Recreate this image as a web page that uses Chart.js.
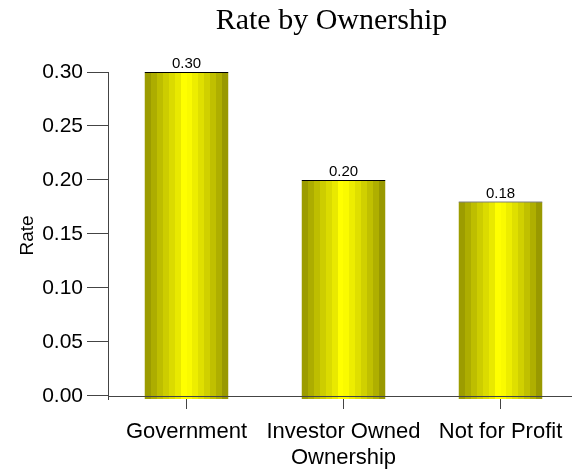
<!DOCTYPE html>
<html>
<head>
<meta charset="utf-8">
<script src="https://cdn.jsdelivr.net/npm/chart.js@4/dist/chart.umd.min.js"></script>
<style>
  html, body { margin: 0; padding: 0; background: #fff; }
  #wrap { width: 579px; height: 474px; }
</style>
</head>
<body>
<div id="wrap"><canvas id="rateChart" width="579" height="474"></canvas></div>
<script>
// --- DATA --- //
const categories = ['Government', 'Investor Owned', 'Not for Profit'];
const rates = [0.30, 0.20, 0.18];
const yTicks = [0.00, 0.05, 0.10, 0.15, 0.20, 0.25, 0.30];

const chartTitle = 'Rate by Ownership';
const yTitle = 'Rate';
const xTitle = 'Ownership';

// bars hang a little below the zero line
const axisDrop = 0.0028;

// cylinder shading, left to right
const bandColors = [
  '#9c9c00', '#adad00', '#bebe00', '#cdcd00', '#dbdb00', '#e9e900', '#ffff00',
  '#fafa00', '#eded00', '#dfdf00', '#d0d000', '#c0c000', '#afaf00', '#999900'
];
const barShare = 0.535;

function barFill(ctx) {
  const chart = ctx.chart;
  const xScale = chart.scales.x;
  if (!chart.chartArea || !xScale) return bandColors[6];
  const center = xScale.getPixelForValue(ctx.dataIndex);
  const half = (xScale.width / categories.length) * barShare / 2;
  const grad = chart.ctx.createLinearGradient(center - half, 0, center + half, 0);
  const n = bandColors.length;
  bandColors.forEach((c, i) => {
    grad.addColorStop(i / n, c);
    grad.addColorStop((i + 1) / n, c);
  });
  return grad;
}

// --- EXTRA DRAWING: title, zero line, value labels --- //
const decorations = {
  id: 'decorations',
  afterDatasetsDraw(chart) {
    const { ctx, chartArea } = chart;
    const yScale = chart.scales.y;
    const zeroY = Math.round(yScale.getPixelForValue(0)) + 0.5;

    ctx.save();
    ctx.strokeStyle = '#444';
    ctx.lineWidth = 1;
    ctx.beginPath();
    ctx.moveTo(chartArea.left, zeroY);
    ctx.lineTo(chartArea.right - 7, zeroY);
    ctx.stroke();

    ctx.fillStyle = '#000';
    ctx.font = '15px "Liberation Sans", Arial, sans-serif';
    ctx.textAlign = 'center';
    ctx.textBaseline = 'alphabetic';
    chart.getDatasetMeta(0).data.forEach((bar, i) => {
      ctx.fillText(rates[i].toFixed(2), bar.x, bar.y - 4);
    });

    ctx.font = '30px "Liberation Serif", "Times New Roman", serif';
    ctx.fillText(chartTitle, (chartArea.left + chartArea.right) / 2 - 12, 29);
    ctx.restore();
  }
};

// --- BAR CHART --- //
const rateChart = new Chart(document.getElementById('rateChart'), {
  type: 'bar',
  data: {
    labels: categories,
    datasets: [{
      data: rates,
      base: -axisDrop,
      backgroundColor: barFill,
      borderColor: '#000',
      borderWidth: { top: 1, right: 0, bottom: 0, left: 0 },
      borderSkipped: false,
      barPercentage: barShare,
      categoryPercentage: 1
    }]
  },
  options: {
    responsive: false,
    animation: false,
    layout: { padding: { top: 72, left: 0, right: 0, bottom: 0 } },
    plugins: {
      legend: { display: false },
      title: { display: false },
      tooltip: { enabled: false }
    },
    scales: {
      x: {
        afterFit: scale => { scale.height = 75; },
        grid: { display: true, drawOnChartArea: false, offset: false, tickLength: 10, color: '#444' },
        border: { display: false },
        ticks: {
          color: '#000',
          padding: 10,
          maxRotation: 0,
          autoSkip: false,
          font: { family: '"Liberation Sans", Arial, sans-serif', size: 22 }
        },
        title: {
          display: true,
          text: xTitle,
          color: '#000',
          padding: { top: 0, bottom: 3 },
          font: { family: '"Liberation Sans", Arial, sans-serif', size: 22 }
        }
      },
      y: {
        min: -axisDrop,
        max: 0.30,
        afterFit: scale => { scale.width = 108; },
        afterBuildTicks: scale => { scale.ticks = yTicks.map(v => ({ value: v })); },
        grid: { display: true, drawOnChartArea: false, tickLength: 21, color: '#444' },
        border: { display: true, color: '#444' },
        ticks: {
          color: '#000',
          padding: 4,
          font: { family: '"Liberation Sans", Arial, sans-serif', size: 21 },
          callback: v => Number(v).toFixed(2)
        },
        title: {
          display: true,
          text: yTitle,
          color: '#000',
          padding: { top: 16, bottom: 0 },
          font: { family: '"Liberation Sans", Arial, sans-serif', size: 19 }
        }
      }
    }
  },
  plugins: [decorations]
});
</script>
</body>
</html>
